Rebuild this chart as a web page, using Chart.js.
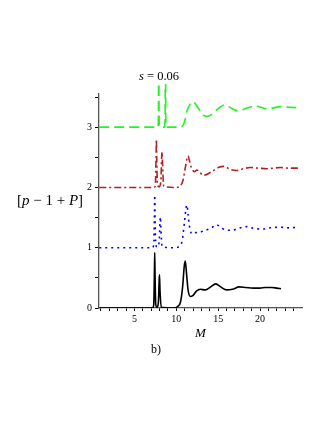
<!DOCTYPE html>
<html><head><meta charset="utf-8">
<script src="https://cdn.jsdelivr.net/npm/chart.js@4"></script>
<style>
html,body{margin:0;padding:0;background:#fff;}
#wrap{position:relative;width:327px;height:423px;overflow:hidden;}
canvas{position:absolute;left:0;top:0;}
.t{position:absolute;font-family:"Liberation Serif","DejaVu Serif",serif;color:#000;white-space:nowrap;line-height:1;}
</style></head><body>
<div id="wrap"><canvas id="c" width="327" height="423"></canvas>
<div class="t" style="left:139px;top:70px;font-size:12.5px;"><i>s</i>&nbsp;=&nbsp;0.06</div>
<div class="t" style="left:17px;top:193px;font-size:15px;">[<i>p</i> &minus; 1 + <i>P</i>]</div>
<div class="t" style="left:195px;top:326px;font-size:13px;"><i>M</i></div>
<div class="t" style="left:151px;top:343px;font-size:12px;">b)</div>
</div>
<script>
// ---- data ----
const xTickValues = [1,2,3,4,5,6,7,8,9,10,11,12,13,14,15,16,17,18,19,20,21,22,23,24];
const xTickLabels = [5,10,15,20];
const yTickValues = [0,0.5,1,1.5,2,2.5,3,3.5];
const yTickLabels = [0,1,2,3];

const blackX = [0.8,7.15,7.3,7.38,7.42,7.46,7.55,7.7,7.85,7.95,7.99,8.05,8.2,9.6,10.2,10.5,10.75,10.95,11.07,11.2,11.4,11.67,12.0,12.4,12.86,13.45,14.1,14.7,15.3,16.0,16.7,17.5,18.3,19.2,20.0,20.6,21.4,22.0,22.5];
const blackY = [0,0,0.05,0.55,0.92,0.55,0.05,0.01,0.08,0.45,0.55,0.3,0.01,0,0.03,0.1,0.35,0.7,0.78,0.6,0.3,0.19,0.21,0.28,0.31,0.30,0.35,0.40,0.35,0.30,0.31,0.35,0.34,0.33,0.33,0.34,0.34,0.33,0.32];

const blueX = [0.8,7.15,7.3,7.38,7.42,7.46,7.55,7.75,7.95,8.05,8.1,8.15,8.3,9.8,10.4,10.7,10.95,11.15,11.27,11.4,11.6,11.87,12.3,12.86,13.5,14.2,14.8,15.5,16.2,16.6,17.4,18.4,19.2,20.2,21.2,22.4,23.4,24.6];
const blueY = [1,1,1.05,1.5,1.87,1.5,1.05,1.01,1.1,1.42,1.51,1.35,1.02,1.0,1.03,1.12,1.4,1.65,1.71,1.55,1.33,1.23,1.25,1.26,1.29,1.33,1.38,1.32,1.29,1.29,1.32,1.35,1.32,1.31,1.33,1.34,1.33,1.34];

const redX = [0.8,7.35,7.5,7.58,7.62,7.66,7.75,7.95,8.15,8.25,8.3,8.35,8.5,10.0,10.5,10.8,11.1,11.3,11.42,11.55,11.8,12.2,12.45,13.25,14.2,15.0,15.7,16.4,17.2,18.0,18.8,19.8,20.8,21.6,22.4,23.5,24.6];
const redY = [2,2,2.05,2.5,2.8,2.5,2.05,2.01,2.1,2.5,2.59,2.4,2.02,2.0,2.03,2.12,2.35,2.5,2.52,2.45,2.33,2.26,2.29,2.2,2.26,2.33,2.35,2.3,2.28,2.31,2.33,2.32,2.31,2.32,2.33,2.32,2.32];

const greenX = [0.8,7.8,7.86,7.9,7.94,8.0,8.6,8.66,8.7,8.74,8.8,10.4,10.8,11.0,11.3,11.7,12.06,12.4,12.7,13.2,13.65,14.1,14.6,15.2,15.8,16.5,17.4,18.3,19.4,20.1,20.8,21.6,22.4,23.5,24.8];
const greenY = [3,3,3.2,4.6,3.2,3,3,3.2,4.6,3.2,3,3.0,3.03,3.1,3.28,3.39,3.42,3.36,3.3,3.2,3.18,3.2,3.26,3.33,3.37,3.32,3.27,3.31,3.35,3.33,3.30,3.32,3.34,3.33,3.32];

function pts(xs, ys){ return xs.map((x,i)=>({x:x, y:ys[i]})); }

const serif = '"Liberation Serif","DejaVu Serif",serif';

new Chart(document.getElementById('c'), {
  type: 'line',
  data: {
    datasets: [
      {data: pts(greenX, greenY), borderColor:'#22f522', borderWidth:1.6, borderDash:[10,5], clip:{left:0,right:0,top:10,bottom:0}},
      {data: pts(redX, redY), borderColor:'#b22222', borderWidth:1.6, borderDash:[7,3,2,3]},
      {data: pts(blueX, blueY), borderColor:'#0000ff', borderWidth:1.6, borderDash:[2,4]},
      {data: pts(blackX, blackY), borderColor:'#000000', borderWidth:1.6}
    ]
  },
  options: {
    responsive:false, animation:false, devicePixelRatio:1,
    layout:{padding:{left:0, right:25, top:94, bottom:0}},
    elements:{point:{radius:0}, line:{cubicInterpolationMode:'monotone', fill:false}},
    plugins:{legend:{display:false}, tooltip:{enabled:false}, title:{display:false}},
    scales:{
      x:{type:'linear', min:0.77, max:25,
        afterBuildTicks:(s)=>{s.ticks = xTickValues.map(v=>({value:v}));},
        afterFit:(s)=>{s.height = 115;},
        grid:{display:true, drawOnChartArea:false, tickLength:3, color:'#000', lineWidth:1},
        border:{display:true, color:'#555', width:1.3},
        ticks:{autoSkip:false, maxRotation:0, padding:2, color:'#000', font:{family:serif, size:10},
          callback:(v)=> xTickLabels.includes(v) ? String(v) : ''}
      },
      y:{type:'linear', min:0, max:3.55,
        afterBuildTicks:(s)=>{s.ticks = yTickValues.map(v=>({value:v}));},
        afterFit:(s)=>{s.width = 99;},
        grid:{display:true, drawOnChartArea:false, tickLength:4, color:'#000', lineWidth:1},
        border:{display:true, color:'#555', width:1.3},
        ticks:{autoSkip:false, padding:3, color:'#000', font:{family:serif, size:10},
          callback:(v)=> yTickLabels.includes(v) ? String(v) : ''}
      }
    }
  }
});
</script>
</body></html>
